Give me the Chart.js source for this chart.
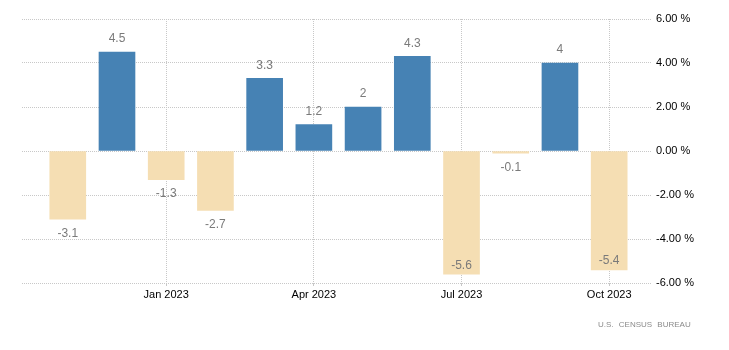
<!DOCTYPE html>
<html>
<head>
<meta charset="utf-8">
<script src="https://cdn.jsdelivr.net/npm/chart.js@4.4.0/dist/chart.umd.min.js"></script>
<style>
  html, body { margin: 0; padding: 0; background: #fff; }
  #wrap { position: relative; width: 729px; height: 350px; }
  #source {
    position: absolute; left: 598px; top: 320px;
    font: 8px "Liberation Sans", Arial, sans-serif; color: #8a8a8a;
    word-spacing: 3px;
  }
</style>
</head>
<body>
<div id="wrap">
  <canvas id="chart" width="729" height="350"></canvas>
  <div id="source">U.S. CENSUS BUREAU</div>
</div>
<script>
// mois de nov 2022 à oct 2023
const months = ['Nov 2022', 'Dec 2022', 'Jan 2023', 'Feb 2023', 'Mar 2023', 'Apr 2023',
  'May 2023', 'Jun 2023', 'Jul 2023', 'Aug 2023', 'Sep 2023', 'Oct 2023'];
const values = [-3.1, 4.5, -1.3, -2.7, 3.3, 1.2, 2, 4.3, -5.6, -0.1, 4, -5.4];
const tickMonths = ['Jan 2023', 'Apr 2023', 'Jul 2023', 'Oct 2023'];
const yTicks = [-6, -4, -2, 0, 2, 4, 6];

const BLUE = '#4682b4';
const WHEAT = '#f5deb3';

// étiquettes de valeur au-dessus / en dessous des barres
const valueLabels = {
  id: 'valueLabels',
  afterDatasetsDraw(chart) {
    const ctx = chart.ctx;
    const meta = chart.getDatasetMeta(0);
    const area = chart.chartArea;
    ctx.save();
    ctx.font = '12px "Liberation Sans", Arial, sans-serif';
    ctx.fillStyle = '#7a7a7a';
    ctx.textAlign = 'center';
    ctx.textBaseline = 'middle';
    meta.data.forEach((bar, i) => {
      const v = values[i];
      let y;
      if (v >= 0) {
        y = bar.y - 13;
      } else {
        y = bar.y + 14;
        if (y + 6 > area.bottom) y = bar.y - 9;
      }
      ctx.fillText(String(v), bar.x, y);
    });
    ctx.restore();
  }
};

const ctx = document.getElementById('chart').getContext('2d');
new Chart(ctx, {
  type: 'bar',
  data: {
    datasets: [{
      data: values.map((v, i) => ({ x: i, y: v })),
      backgroundColor: values.map(v => v >= 0 ? BLUE : WHEAT),
      barThickness: 36,
      borderWidth: 0
    }]
  },
  options: {
    responsive: false,
    animation: false,
    layout: { padding: { left: 22, top: 19, right: 0, bottom: 0 } },
    plugins: {
      legend: { display: false },
      tooltip: { enabled: false }
    },
    scales: {
      x: {
        type: 'linear',
        offset: false,
        min: -0.93,
        max: 11.87,
        afterBuildTicks: scale => {
          scale.ticks = tickMonths.map(m => ({ value: months.indexOf(m) }));
        },
        afterFit: scale => { scale.height = 67; },
        ticks: {
          callback: v => months[v],
          color: '#000',
          font: { family: '"Liberation Sans", Arial, sans-serif', size: 11 },
          padding: 2,
          maxRotation: 0,
          autoSkip: false
        },
        grid: {
          offset: false,
          color: '#c8c8c8',
          tickLength: 3,
          tickColor: '#c8c8c8'
        },
        border: { display: false, dash: [1, 1] }
      },
      y: {
        position: 'right',
        min: -6,
        max: 6,
        afterBuildTicks: scale => {
          scale.ticks = yTicks.map(v => ({ value: v }));
        },
        afterFit: scale => { scale.width = 77; },
        ticks: {
          callback: v => v.toFixed(2) + ' %',
          color: '#000',
          font: { family: '"Liberation Sans", Arial, sans-serif', size: 11 },
          padding: 4
        },
        grid: {
          color: '#c8c8c8',
          drawTicks: false
        },
        border: { display: false, dash: [1, 1] }
      }
    }
  },
  plugins: [valueLabels]
});
</script>
</body>
</html>
